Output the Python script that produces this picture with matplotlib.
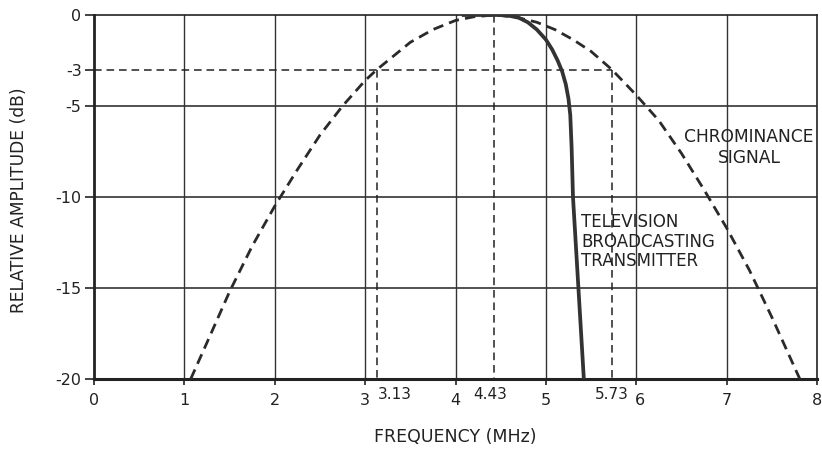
import matplotlib
matplotlib.use("Agg")
import matplotlib.pyplot as plt
import matplotlib.transforms as mtransforms

plt.rcParams["font.family"] = ["DejaVu Sans"]
plt.rcParams["lines.scale_dashes"] = False

# ---- data ----
chroma_x = [1.07, 1.25, 1.5, 1.75, 2.0, 2.25, 2.5, 2.75, 3.0, 3.13, 3.5, 3.75, 4.0, 4.2,
            4.43, 4.65, 4.9, 5.1, 5.3, 5.5, 5.73, 6.0, 6.25, 6.5, 6.75, 7.0, 7.25, 7.5, 7.81]
chroma_y = [-20.0, -18.0, -15.2, -12.7, -10.5, -8.5, -6.6, -5.0, -3.6, -3.0, -1.5, -0.8, -0.3, -0.1,
            0.0, -0.1, -0.4, -0.8, -1.35, -2.0, -3.0, -4.4, -5.8, -7.6, -9.6, -11.7, -14.0, -16.6, -20.0]

tx_x = [4.07, 4.3, 4.5, 4.6, 4.7, 4.8, 4.9, 5.0, 5.07, 5.13, 5.18, 5.22, 5.25, 5.27, 5.285, 5.30, 5.36, 5.42]
tx_y = [0.0, 0.0, 0.0, -0.05, -0.15, -0.4, -0.8, -1.35, -1.9, -2.5, -3.1, -3.8, -4.6, -5.5, -7.3, -10.0, -15.0, -20.0]

x_ticks = [0, 1, 2, 3, 4, 5, 6, 7, 8]
x_tick_labels = ["0", "1", "2", "3", "4", "5", "6", "7", "8"]
y_ticks = [0, -3, -5, -10, -15, -20]
y_tick_labels = ["0", "-3", "-5", "-10", "-15", "-20"]
grid_x = [1, 2, 3, 4, 5, 6, 7]
grid_y = [-5, -10, -15]
marker_freqs = [3.13, 4.43, 5.73]
marker_labels = ["3.13", "4.43", "5.73"]
marker_tops = [-3, 0, -3]
level_3db = -3

INK = "#222222"

fig = plt.figure(figsize=(8.22, 4.49), dpi=100)
ax = fig.add_axes([94 / 822, 1 - 379 / 449, (817 - 94) / 822, (379 - 15) / 449])
ax.set_xlim(0, 8)
ax.set_ylim(-20, 0)

for gx in grid_x:
    ax.axvline(gx, color="#333333", lw=1.0, zorder=1)
for gy in grid_y:
    ax.axhline(gy, color="#333333", lw=1.2, zorder=1)

# thin dashed reference lines
ax.plot([0, marker_freqs[2]], [level_3db, level_3db], color=INK, lw=1.1,
        dashes=(5.5, 3.5), zorder=2)
for f, top in zip(marker_freqs, marker_tops):
    ax.plot([f, f], [top, -20], color=INK, lw=1.1, dashes=(5.5, 3.5), zorder=2)

# curves
ax.plot(chroma_x, chroma_y, color="#2a2a2a", lw=2.0, dashes=(7.5, 4.5), zorder=3)
ax.plot(tx_x, tx_y, color="#333333", lw=2.7, solid_capstyle="butt",
        solid_joinstyle="round", zorder=4)

# spines
for side, lw in [("left", 2.0), ("bottom", 2.2), ("top", 1.2), ("right", 1.2)]:
    ax.spines[side].set_linewidth(lw)
    ax.spines[side].set_color(INK)

ax.set_xticks(x_ticks)
ax.set_xticklabels(x_tick_labels)
ax.set_yticks(y_ticks)
ax.set_yticklabels(y_tick_labels)
ax.tick_params(axis="x", direction="out", length=4.5, width=1.2, pad=5.5,
               labelsize=11.5, colors=INK)
ax.tick_params(axis="y", direction="out", length=6.5, width=1.2, pad=2.5,
               labelsize=11.5, colors=INK)

# nudge the "6" label right as in the reference
for lab in ax.get_xticklabels():
    if lab.get_text() == "6":
        lab.set_transform(lab.get_transform() +
                          mtransforms.ScaledTranslation(4 / 100, 0, fig.dpi_scale_trans))

# marker frequency labels
xt = ax.get_xaxis_transform()
offs = {"3.13": (1, "left"), "4.43": (-4, "center"), "5.73": (0, "center")}
for f, lab in zip(marker_freqs, marker_labels):
    dx, ha = offs[lab]
    tr = xt + mtransforms.ScaledTranslation(dx / 100, -8 / 100, fig.dpi_scale_trans)
    ax.text(f, 0, lab, transform=tr, ha=ha, va="top", fontsize=11, color=INK)

# annotations
ax.text(7.25, -6.2, "CHROMINANCE\nSIGNAL", ha="center", va="top",
        fontsize=12.3, color=INK, linespacing=1.2)
ax.text(5.39, -10.9, "TELEVISION\nBROADCASTING\nTRANSMITTER", ha="left", va="top",
        fontsize=12, color=INK, linespacing=1.1)

fig.text(455 / 822, 1 - 437 / 449, "FREQUENCY (MHz)", ha="center", va="center",
         fontsize=12.5, color=INK)
fig.text(19 / 822, 1 - 200 / 449, "RELATIVE AMPLITUDE (dB)", ha="center", va="center",
         rotation=90, fontsize=12.3, color=INK)

fig.savefig("out.png", dpi=100, facecolor="white")
